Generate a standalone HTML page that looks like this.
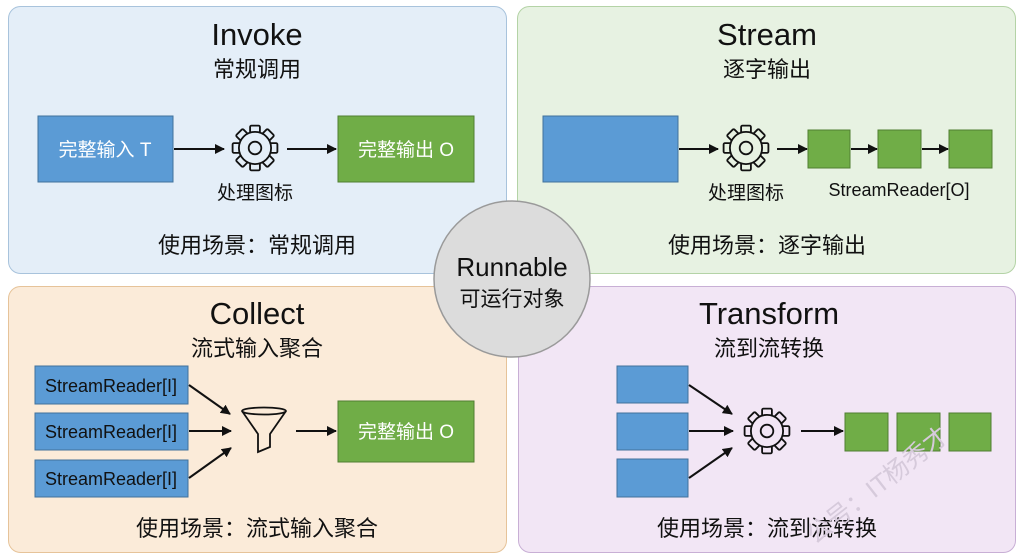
<!DOCTYPE html>
<html><head><meta charset="utf-8"><style>
html,body{margin:0;padding:0;background:#fff;}
svg{display:block;font-family:"Liberation Sans","Noto Sans CJK SC",sans-serif;}
</style></head><body>
<svg width="1024" height="559" viewBox="0 0 1024 559">
<defs>
<marker id="a" markerWidth="10" markerHeight="10" refX="9" refY="5" orient="auto" markerUnits="userSpaceOnUse"><path d="M0,0 L10,5 L0,10 z" fill="#111"/></marker>
<g id="gear">
  <g stroke="#111" stroke-width="1.3">
    <rect x="-3.5" y="-16" width="7" height="8" rx="1"/>
    <rect x="-3.5" y="-16" width="7" height="8" rx="1" transform="rotate(45)"/>
    <rect x="-3.5" y="-16" width="7" height="8" rx="1" transform="rotate(90)"/>
    <rect x="-3.5" y="-16" width="7" height="8" rx="1" transform="rotate(135)"/>
    <rect x="-3.5" y="-16" width="7" height="8" rx="1" transform="rotate(180)"/>
    <rect x="-3.5" y="-16" width="7" height="8" rx="1" transform="rotate(225)"/>
    <rect x="-3.5" y="-16" width="7" height="8" rx="1" transform="rotate(270)"/>
    <rect x="-3.5" y="-16" width="7" height="8" rx="1" transform="rotate(315)"/>
  </g>
  <circle r="11.5" stroke="#111" stroke-width="1.3"/>
  <circle r="4.5" fill="none" stroke="#111" stroke-width="1.3"/>
</g>
</defs>

<!-- panels -->
<rect x="8.5" y="6.5" width="498" height="267" rx="12" fill="#e4eef8" stroke="#a8c3dc"/>
<rect x="517.5" y="6.5" width="498" height="267" rx="12" fill="#e7f2e2" stroke="#b4d3a6"/>
<rect x="8.5" y="286.5" width="498" height="266" rx="12" fill="#fbebd9" stroke="#e6c399"/>
<rect x="518.5" y="286.5" width="497" height="266" rx="12" fill="#f2e6f5" stroke="#c8afd5"/>

<!-- TL Invoke -->
<text x="257" y="45" font-size="31" text-anchor="middle" fill="#111">Invoke</text>
<text x="257" y="77" font-size="22" text-anchor="middle" fill="#111">常规调用</text>
<rect x="38" y="116" width="135" height="66" fill="#5b9bd5" stroke="#41719c"/>
<text x="105" y="156" font-size="19" text-anchor="middle" fill="#fff">完整输入 T</text>
<line x1="174" y1="149" x2="224" y2="149" stroke="#111" stroke-width="2" marker-end="url(#a)"/>
<g transform="translate(255,148) scale(1.4)"><use href="#gear" fill="#e4eef8"/></g>
<line x1="287" y1="149" x2="336" y2="149" stroke="#111" stroke-width="2" marker-end="url(#a)"/>
<rect x="338" y="116" width="136" height="66" fill="#70ad47" stroke="#507e32"/>
<text x="406" y="156" font-size="19" text-anchor="middle" fill="#fff">完整输出 O</text>
<text x="255" y="199" font-size="19" text-anchor="middle" fill="#111">处理图标</text>
<text x="257" y="253" font-size="22" text-anchor="middle" fill="#111">使用场景：常规调用</text>

<!-- TR Stream -->
<text x="767" y="45" font-size="31" text-anchor="middle" fill="#111">Stream</text>
<text x="767" y="77" font-size="22" text-anchor="middle" fill="#111">逐字输出</text>
<rect x="543" y="116" width="135" height="66" fill="#5b9bd5" stroke="#41719c"/>
<line x1="679" y1="149" x2="718" y2="149" stroke="#111" stroke-width="2" marker-end="url(#a)"/>
<g transform="translate(746,148) scale(1.4)"><use href="#gear" fill="#e7f2e2"/></g>
<line x1="777" y1="149" x2="807" y2="149" stroke="#111" stroke-width="2" marker-end="url(#a)"/>
<rect x="808" y="130" width="42" height="38" fill="#70ad47" stroke="#507e32"/>
<line x1="851" y1="149" x2="877" y2="149" stroke="#111" stroke-width="2" marker-end="url(#a)"/>
<rect x="878" y="130" width="43" height="38" fill="#70ad47" stroke="#507e32"/>
<line x1="922" y1="149" x2="948" y2="149" stroke="#111" stroke-width="2" marker-end="url(#a)"/>
<rect x="949" y="130" width="43" height="38" fill="#70ad47" stroke="#507e32"/>
<text x="746" y="199" font-size="19" text-anchor="middle" fill="#111">处理图标</text>
<text x="899" y="196" font-size="18" text-anchor="middle" fill="#111">StreamReader[O]</text>
<text x="767" y="253" font-size="22" text-anchor="middle" fill="#111">使用场景：逐字输出</text>

<!-- BL Collect -->
<text x="257" y="324" font-size="31" text-anchor="middle" fill="#111">Collect</text>
<text x="257" y="356" font-size="22" text-anchor="middle" fill="#111">流式输入聚合</text>
<rect x="35" y="366" width="153" height="38" fill="#5b9bd5" stroke="#41719c"/>
<text x="111" y="392" font-size="18" text-anchor="middle" fill="#111">StreamReader[I]</text>
<rect x="35" y="413" width="153" height="37" fill="#5b9bd5" stroke="#41719c"/>
<text x="111" y="438" font-size="18" text-anchor="middle" fill="#111">StreamReader[I]</text>
<rect x="35" y="460" width="153" height="37" fill="#5b9bd5" stroke="#41719c"/>
<text x="111" y="485" font-size="18" text-anchor="middle" fill="#111">StreamReader[I]</text>
<line x1="189" y1="385" x2="230" y2="414" stroke="#111" stroke-width="2" marker-end="url(#a)"/>
<line x1="189" y1="431" x2="231" y2="431" stroke="#111" stroke-width="2" marker-end="url(#a)"/>
<line x1="189" y1="478" x2="231" y2="448" stroke="#111" stroke-width="2" marker-end="url(#a)"/>
<g fill="none" stroke="#111" stroke-width="1.8">
<ellipse cx="264" cy="411" rx="22" ry="3.5"/>
<path d="M242,411 L258,434 L258,452 L270,447 L270,434 L286,411"/>
</g>
<line x1="296" y1="431" x2="336" y2="431" stroke="#111" stroke-width="2" marker-end="url(#a)"/>
<rect x="338" y="401" width="136" height="61" fill="#70ad47" stroke="#507e32"/>
<text x="406" y="438" font-size="19" text-anchor="middle" fill="#fff">完整输出 O</text>
<text x="257" y="536" font-size="22" text-anchor="middle" fill="#111">使用场景：流式输入聚合</text>

<!-- BR Transform -->
<text x="769" y="324" font-size="31" text-anchor="middle" fill="#111">Transform</text>
<text x="769" y="356" font-size="22" text-anchor="middle" fill="#111">流到流转换</text>
<rect x="617" y="366" width="71" height="37" fill="#5b9bd5" stroke="#41719c"/>
<rect x="617" y="413" width="71" height="37" fill="#5b9bd5" stroke="#41719c"/>
<rect x="617" y="459" width="71" height="38" fill="#5b9bd5" stroke="#41719c"/>
<line x1="689" y1="385" x2="732" y2="414" stroke="#111" stroke-width="2" marker-end="url(#a)"/>
<line x1="689" y1="431" x2="733" y2="431" stroke="#111" stroke-width="2" marker-end="url(#a)"/>
<line x1="689" y1="478" x2="732" y2="448" stroke="#111" stroke-width="2" marker-end="url(#a)"/>
<g transform="translate(767,431) scale(1.4)"><use href="#gear" fill="#f2e6f5"/></g>
<line x1="801" y1="431" x2="843" y2="431" stroke="#111" stroke-width="2" marker-end="url(#a)"/>
<rect x="845" y="413" width="43" height="38" fill="#70ad47" stroke="#507e32"/>
<rect x="897" y="413" width="43" height="38" fill="#70ad47" stroke="#507e32"/>
<rect x="949" y="413" width="42" height="38" fill="#70ad47" stroke="#507e32"/>
<text x="767" y="536" font-size="22" text-anchor="middle" fill="#111">使用场景：流到流转换</text>
<text x="0" y="0" font-size="25" fill="#d6cadb" transform="translate(815,545) rotate(-38)">公号：IT杨秀才</text>

<!-- center circle -->
<circle cx="512" cy="279" r="78" fill="#dcdcdc" stroke="#9a9a9a" stroke-width="1.5"/>
<text x="512" y="276" font-size="26" text-anchor="middle" fill="#111">Runnable</text>
<text x="512" y="306" font-size="21" text-anchor="middle" fill="#111">可运行对象</text>
</svg>
</body></html>
